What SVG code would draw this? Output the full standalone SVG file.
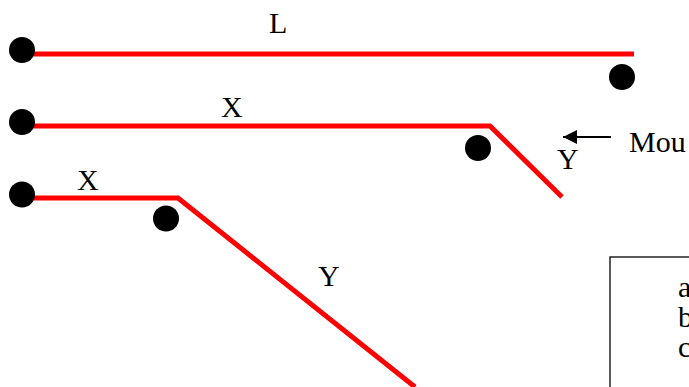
<svg xmlns="http://www.w3.org/2000/svg" width="689" height="387" viewBox="0 0 689 387">
<defs>
<style>
.wire{fill:none;stroke:#ff0000;stroke-width:5;stroke-linejoin:miter}
.dot{fill:#000}
.lbl{font-family:"Liberation Serif","Times New Roman",serif;font-size:30px;fill:#000}
.box{fill:#fff;stroke:#000;stroke-width:1.3}
</style>
<marker id="ah" viewBox="0 0 10 10" refX="10" refY="5" markerWidth="18" markerHeight="14" markerUnits="userSpaceOnUse" orient="auto">
<path d="M0,0 L10,5 L0,10 Z" fill="#000"/>
</marker>
</defs>
<g id="connectors">
<path class="wire" d="M33,54 H634"/>
<path class="wire" d="M33,126 H490 L562,197"/>
<path class="wire" d="M33,198 H178 L415,387"/>
<line x1="611" y1="137" x2="563" y2="137" stroke="#000" stroke-width="2" marker-end="url(#ah)"/>
</g>
<g id="wire1">
<circle class="dot" cx="22" cy="50" r="13"/>
<circle class="dot" cx="622" cy="77" r="13"/>
<text class="lbl" x="269" y="33">L</text>
</g>
<g id="wire2">
<circle class="dot" cx="22" cy="122" r="13"/>
<circle class="dot" cx="478" cy="148" r="13"/>
<text class="lbl" x="221" y="117">X</text>
<text class="lbl" x="557" y="169">Y</text>
</g>
<g id="wire3">
<circle class="dot" cx="22" cy="194.5" r="13"/>
<circle class="dot" cx="166" cy="218.5" r="13"/>
<text class="lbl" x="77" y="190">X</text>
<text class="lbl" x="318" y="286">Y</text>
</g>
<g id="mouse-label">
<text class="lbl" x="629" y="152">Mou</text>
</g>
<g id="legend">
<rect class="box" x="610" y="257" width="100" height="140"/>
<text class="lbl" x="678" y="297">a</text>
<text class="lbl" x="678" y="327">b</text>
<text class="lbl" x="678" y="357">c</text>
</g>
</svg>
